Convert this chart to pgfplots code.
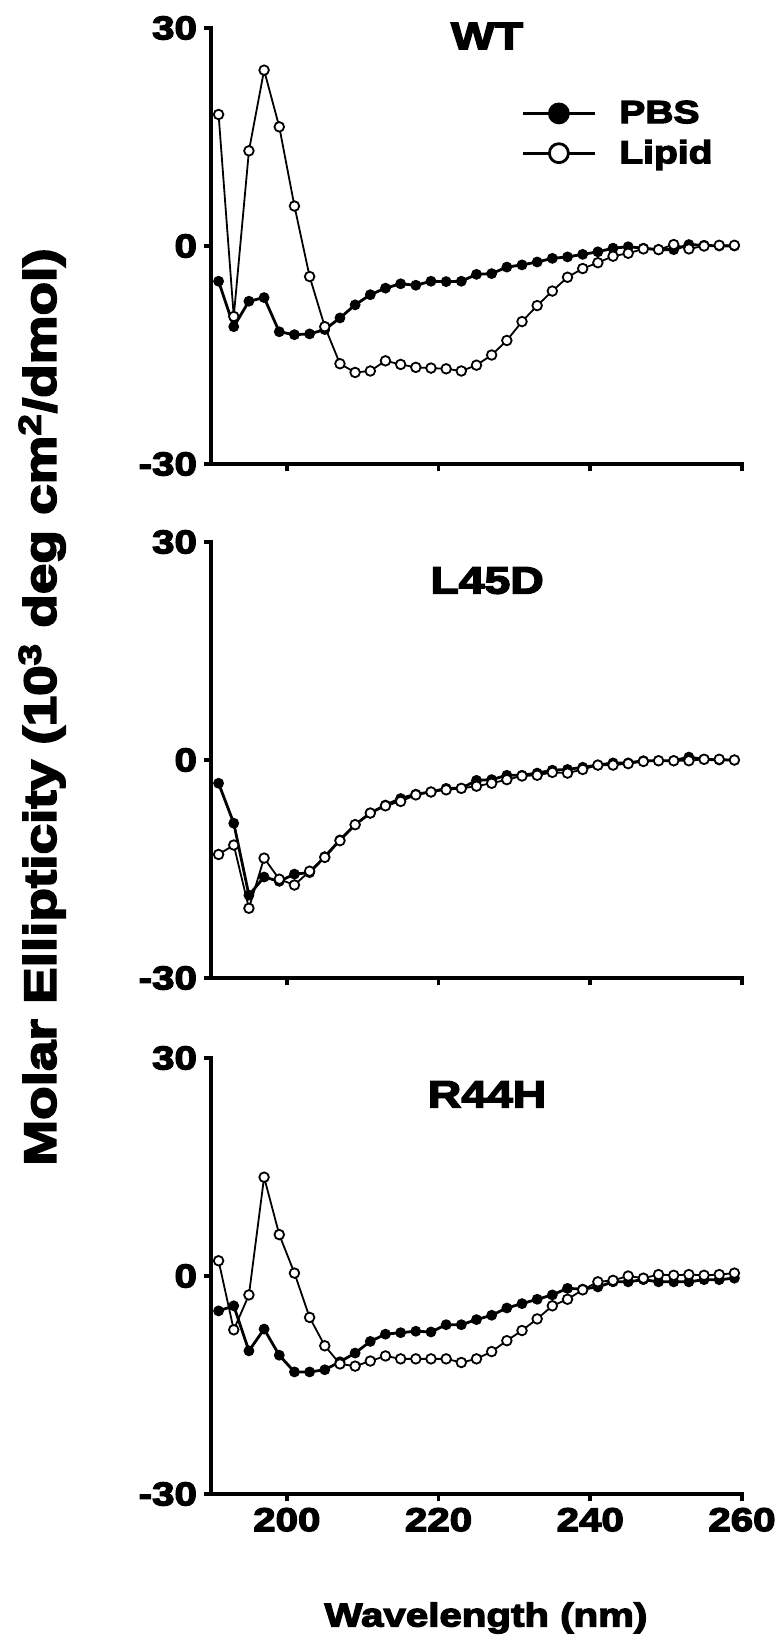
\documentclass[border=0pt]{standalone}
\usepackage{fontspec}
\setmainfont{Liberation Sans}[FakeStretch=1.22, BoldFeatures={FakeBold=4}]
\usepackage{pgfplots}
\usepackage{pgfplotstable}
\pgfplotsset{compat=1.18}

\pgfplotstableread{
x pbs lipid
191 -4.85 18.1
193 -11.1 -9.7
195 -7.6 13.1
197 -7.1 24.2
199 -11.8 16.4
201 -12.2 5.5
203 -12.1 -4.2
205 -11.5 -11.1
207 -9.9 -16.2
209 -8.1 -17.4
211 -6.7 -17.2
213 -5.8 -15.8
215 -5.2 -16.3
217 -5.4 -16.7
219 -4.85 -16.8
221 -4.9 -16.9
223 -4.85 -17.2
225 -3.9 -16.4
227 -3.8 -15.0
229 -2.9 -13.0
231 -2.6 -10.4
233 -2.2 -8.2
235 -1.7 -6.2
237 -1.5 -4.3
239 -1.15 -3.1
241 -0.8 -2.3
243 -0.3 -1.4
245 -0.1 -1.0
247 -0.3 -0.4
249 -0.5 -0.5
251 -0.5 0.2
253 0.2 -0.4
255 0.1 0.0
257 0.0 0.1
259 0.0 0.1
}\wt

\pgfplotstableread{
x pbs lipid
191 -3.2 -13.0
193 -8.7 -11.7
195 -18.6 -20.4
197 -16.1 -13.5
199 -16.7 -16.4
201 -15.7 -17.2
203 -15.5 -15.3
205 -13.3 -13.4
207 -11.0 -11.1
209 -8.9 -8.9
211 -7.3 -7.3
213 -6.2 -6.3
215 -5.3 -5.7
217 -4.7 -4.8
219 -4.4 -4.4
221 -3.9 -4.1
223 -3.9 -3.9
225 -2.8 -3.6
227 -2.7 -3.2
229 -2.1 -2.7
231 -2.1 -2.2
233 -1.8 -2.1
235 -1.4 -1.7
237 -1.3 -1.8
239 -1.0 -1.3
241 -0.7 -0.7
243 -0.4 -0.7
245 -0.4 -0.5
247 -0.1 -0.2
249 -0.1 -0.1
251 -0.1 -0.1
253 0.4 -0.1
255 0.1 0.1
257 0.0 0.1
259 0.0 0.0
}\lfd

\pgfplotstableread{
x pbs lipid
191 -4.8 2.1
193 -4.1 -7.4
195 -10.3 -2.6
197 -7.3 13.6
199 -10.9 5.7
201 -13.2 0.4
203 -13.2 -5.7
205 -12.9 -9.6
207 -11.8 -12.1
209 -10.6 -12.4
211 -9.0 -11.7
213 -8.0 -11.0
215 -7.8 -11.4
217 -7.6 -11.4
219 -7.7 -11.4
221 -6.7 -11.4
223 -6.7 -11.9
225 -6.0 -11.4
227 -5.4 -10.4
229 -4.4 -8.9
231 -3.8 -7.5
233 -3.2 -5.9
235 -2.6 -4.1
237 -1.7 -3.2
239 -1.8 -1.9
241 -1.5 -0.8
243 -0.8 -0.6
245 -0.8 0.0
247 -0.5 -0.3
249 -0.8 0.2
251 -0.8 0.1
253 -0.8 0.2
255 -0.5 0.1
257 -0.5 0.2
259 -0.3 0.4
}\rfh

\pgfplotsset{
  cdpanel/.style={
    scale only axis, width=265.5pt, height=218pt,
    xmin=190, xmax=260, ymin=-30, ymax=30,
    axis x line*=bottom, axis y line*=left,
    axis line style={line width=1.8pt, -, line cap=rect},
    xtick={200,220,240,260}, ytick={-30,0,30},
    yticklabels={-30,0,30},
    tick align=outside, major tick length=3.5pt,
    every tick/.style={line width=1.8pt, black},
    tick label style={font=\fontsize{16.5}{18}\selectfont\bfseries},
    clip=false,
    title style={font=\fontsize{19}{21}\selectfont\bfseries, anchor=center, yshift=0pt},
  },
  pbs/.style={black, line width=1.4pt, mark=*, mark size=2.4pt,
    mark options={solid, fill=black, line width=0.6pt}},
  lipid/.style={black, line width=0.9pt, mark=*, mark size=2.4pt,
    mark options={solid, fill=white, line width=0.9pt}},
}

\begin{document}
\begin{tikzpicture}
\useasboundingbox (0,0) rectangle (390pt,-819pt);

% Panel 1: WT
\begin{axis}[cdpanel, at={(105.5pt,-232pt)}, anchor=south west,
  xticklabels={},
  title={WT}, title style={at={(axis description cs:0.52,0.954)}},
  legend image code/.code={\draw[mark repeat=2,mark phase=2,#1] plot coordinates {(0pt,0pt) (18pt,0pt) (36pt,0pt)};},
  legend style={draw=none, fill=none, inner sep=0pt, row sep=7pt,
    at={(axis description cs:0.584,0.758)}, anchor=west,
    font=\fontsize{16}{18}\selectfont\bfseries,
    nodes={inner sep=0pt},
    /tikz/every odd column/.append style={column sep=11.5pt}},
  legend cell align=left]
\addlegendimage{black, line width=1.4pt, mark=*, mark size=4.75pt, mark options={fill=black}}
\addlegendentry{PBS}
\addlegendimage{black, line width=1.4pt, mark=*, mark size=4.75pt, mark options={fill=white}}
\addlegendentry{Lipid}
\addplot[pbs, forget plot] table[x=x, y=pbs] {\wt};
\addplot[lipid, forget plot] table[x=x, y=lipid] {\wt};
\end{axis}

% Panel 2: L45D
\begin{axis}[cdpanel, at={(105.5pt,-489pt)}, anchor=south west,
  xticklabels={},
  title={L45D}, title style={at={(axis description cs:0.52,0.884)}}]
\addplot[pbs] table[x=x, y=pbs] {\lfd};
\addplot[lipid] table[x=x, y=lipid] {\lfd};
\end{axis}

% Panel 3: R44H
\begin{axis}[cdpanel, at={(105.5pt,-747pt)}, anchor=south west,
  xticklabels={200,220,240,260},
  title={R44H}, title style={at={(axis description cs:0.52,0.889)}}]
\addplot[pbs] table[x=x, y=pbs] {\rfh};
\addplot[lipid] table[x=x, y=lipid] {\rfh};
\end{axis}

\node[rotate=90, anchor=center, font=\fontsize{22.5}{25}\selectfont\bfseries] at (21pt,-353.5pt)
  {Molar Ellipticity (10\textsuperscript{3} deg cm\textsuperscript{2}/dmol)};
\node[anchor=center, font=\fontsize{16.5}{18}\selectfont\bfseries] at (243pt,-809pt) {Wavelength (nm)};
\end{tikzpicture}
\end{document}
